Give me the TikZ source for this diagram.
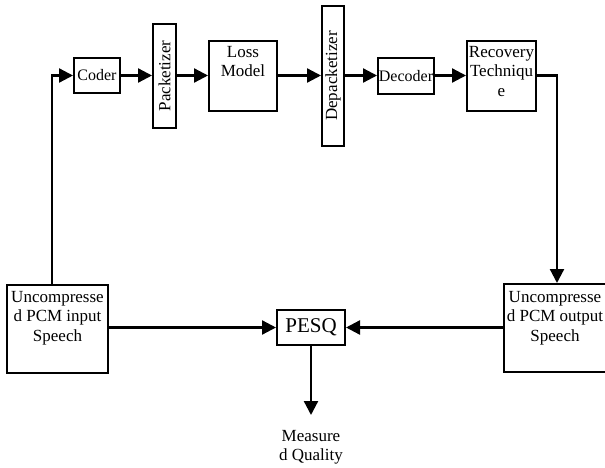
\documentclass[tikz,border=0pt]{standalone}
\usepackage{fontspec}
\setmainfont{Liberation Serif}
\usetikzlibrary{arrows.meta}
\tikzset{
  x=1pt, y=-1pt,
  box/.style={draw, line width=2pt, inner sep=0pt, font=\fontsize{16}{19.5}\selectfont},
  txt/.style={inner sep=0pt, align=center, font=\fontsize{17}{19.5}\selectfont},
  conn/.style={line width=2.3pt, -{Triangle[length=14pt,width=14pt]}},
  plain/.style={line width=2.3pt}
}
\begin{document}
\begin{tikzpicture}
\useasboundingbox (0,0) rectangle (605,468);
% top row
\node[box, minimum width=46pt, minimum height=35pt] (coder) at (97,75.5) {Coder};
\node[box, minimum width=23pt, minimum height=104pt] (pack) at (164.5,76) {\rotatebox{90}{\fontsize{17}{19.5}\selectfont Packetizer}};
\node[box, minimum width=68pt, minimum height=70pt] (loss) at (243,76) {};
\node[txt, anchor=north] (losst) at (243,46) {Loss\\Model};
\node[box, minimum width=22pt, minimum height=140pt] (depack) at (333,76) {\rotatebox{90}{\fontsize{17}{19.5}\selectfont Depacketizer}};
\node[box, minimum width=56pt, minimum height=36pt] (dec) at (406,76) {Decoder};
\node[box, minimum width=69pt, minimum height=70pt] (rec) at (501.5,76) {};
\node[txt, anchor=north] (rect) at (501.5,46) {Recovery\\Techniqu\\e};
% bottom row
\node[box, minimum width=101pt, minimum height=88pt] (inp) at (57.5,329) {};
\node[txt, anchor=north] (inpt) at (57.5,291) {Uncompresse\\d PCM input\\Speech};
\node[box, minimum width=102pt, minimum height=88pt] (outp) at (555,328) {};
\node[txt, anchor=north] (outpt) at (555,291) {Uncompresse\\d PCM output\\Speech};
\node[box, minimum width=68pt, minimum height=35pt, font=\fontsize{21}{24}\selectfont] (pesq) at (311,327.5) {PESQ};
\node[txt, anchor=north] (meas) at (311,430) {Measure\\d Quality};
\coordinate (mend) at (311,415);
% connectors
\draw[conn] (inp.north -| 52,0) |- (coder.west);
\draw[conn] (coder.east) -- (pack.west |- coder.east);
\draw[conn] (pack.east |- coder.east) -- (loss.west |- coder.east);
\draw[conn] (loss.east |- coder.east) -- (depack.west |- coder.east);
\draw[conn] (depack.east |- coder.east) -- (dec.west |- coder.east);
\draw[conn] (dec.east |- coder.east) -- (rec.west |- coder.east);
\draw[conn] (rec.east |- coder.east) -| (outp.north -| 557,0);
\draw[conn] (inp.east |- pesq.west) -- (pesq.west);
\draw[conn] (outp.west |- pesq.east) -- (pesq.east);
\draw[conn] (pesq.south) -- (mend);
\end{tikzpicture}
\end{document}
